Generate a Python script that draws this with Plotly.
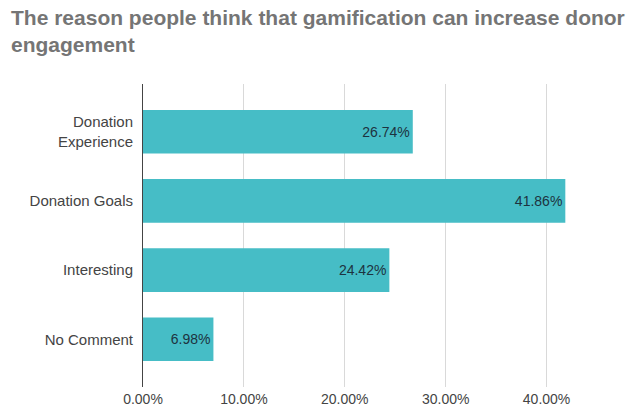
import plotly.graph_objects as go

# Survey answers: why gamification can increase donor engagement
categories = ["Donation<br>Experience", "Donation Goals", "Interesting", "No Comment"]
shares = [0.2674, 0.4186, 0.2442, 0.0698]
x_ticks = [0, 0.1, 0.2, 0.3, 0.4]
x_tick_labels = ["0.00%", "10.00%", "20.00%", "30.00%", "40.00%"]
title_text = "The reason people think that gamification can increase donor<br>engagement"

labels = [f"{v * 100:.2f}%" for v in shares]

FONT = "Arial, 'Liberation Sans', sans-serif"
PLOT_TOP, PLOT_BOTTOM = 84, 387
PLOT_H = PLOT_BOTTOM - PLOT_TOP

fig = go.Figure(
    go.Bar(
        y=categories,
        x=shares,
        orientation="h",
        marker=dict(color="#46bdc6", line=dict(width=0)),
        text=labels,
        textposition="inside",
        insidetextanchor="end",
        textfont=dict(family=FONT, size=14, color="#1d3340"),
        width=0.63,
        hoverinfo="skip",
    )
)

fig.update_layout(
    width=643,
    height=408,
    margin=dict(l=143, r=46, t=PLOT_TOP, b=408 - PLOT_BOTTOM),
    paper_bgcolor="white",
    plot_bgcolor="white",
    showlegend=False,
    uniformtext=dict(mode=False),
    annotations=[
        dict(
            text=f"<b>{title_text}</b>",
            xref="paper",
            yref="paper",
            x=(9 - 143) / 454,
            y=(PLOT_BOTTOM - 4) / PLOT_H,
            xanchor="left",
            yanchor="top",
            align="left",
            showarrow=False,
            font=dict(family=FONT, size=21, color="#757575"),
        )
    ],
)

fig.update_xaxes(
    range=[0, 0.45],
    tickvals=x_ticks,
    ticktext=x_tick_labels,
    showgrid=True,
    gridcolor="#d9d9d9",
    gridwidth=1,
    zeroline=False,
    showline=False,
    ticks="",
    automargin=False,
    ticklabelstandoff=2,
    tickfont=dict(family=FONT, size=14, color="#444444"),
    fixedrange=True,
)

fig.update_yaxes(
    categoryorder="array",
    categoryarray=categories,
    range=[3.69, -0.69],
    showgrid=False,
    zeroline=False,
    showline=True,
    linecolor="#444444",
    linewidth=1,
    ticks="",
    automargin=False,
    ticklabelstandoff=6,
    tickfont=dict(family=FONT, size=15, color="#444444"),
    fixedrange=True,
)

fig.write_html("out.html")
